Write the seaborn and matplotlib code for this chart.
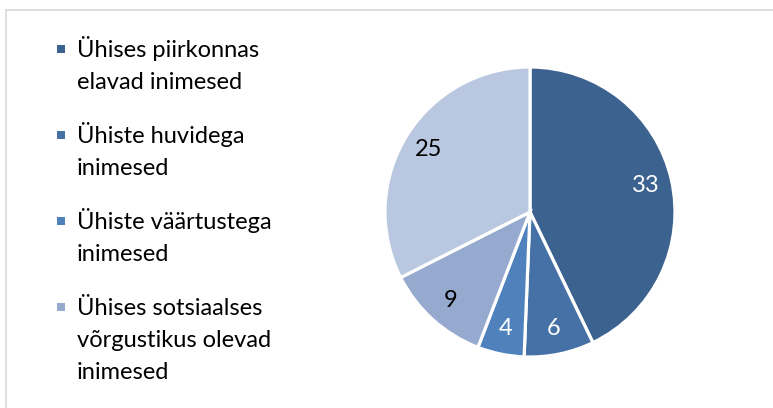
import matplotlib
matplotlib.use("Agg")
import matplotlib.pyplot as plt
import seaborn as sns
from matplotlib.patches import Rectangle
from matplotlib.lines import Line2D

# ---- data ----
legend_labels = [
    "Ühises piirkonnas\nelavad inimesed",
    "Ühiste huvidega\ninimesed",
    "Ühiste väärtustega\ninimesed",
    "Ühises sotsiaalses\nvõrgustikus olevad\ninimesed",
]
values = [33, 6, 4, 9, 25]
colors = ["#3C6390", "#4671A6", "#4F81BD", "#95AACE", "#B9C8E0"]
label_colors = ["white", "white", "white", "black", "black"]

sns.set_theme(style="white")
plt.rcParams['font.family'] = ['Lato', 'DejaVu Sans']

W, H = 773, 408
fig = plt.figure(figsize=(W / 100, H / 100), dpi=100)
fig.patch.set_facecolor("white")

# chart frame (top and left edges visible)
fig.add_artist(Line2D([6 / W, 6 / W], [0, 1 - 10 / H], color="#d9d9d9", lw=1.2))
fig.add_artist(Line2D([6 / W, 1], [1 - 10 / H, 1 - 10 / H], color="#d9d9d9", lw=1.2))

# pie
cx, cy, r = 530, 212, 145
ax = fig.add_axes([(cx - r) / W, (H - cy - r) / H, 2 * r / W, 2 * r / H])
total = sum(values)
wedges, texts, autotexts = ax.pie(
    values, colors=colors, startangle=90, counterclock=False,
    wedgeprops=dict(edgecolor="white", linewidth=2.3),
    autopct=lambda p: f"{p * total / 100:.0f}", pctdistance=0.82,
    textprops=dict(fontsize=17),
)
for t, c in zip(autotexts, label_colors):
    t.set_color(c)
ax.set_xlim(-1, 1)
ax.set_ylim(-1, 1)
ax.set_aspect("equal")
ax.axis("off")

# legend (manual, marker aligned with first line)
base = 57
pitch = 32
gap = 22
for i, lab in enumerate(legend_labels):
    lines = lab.split("\n")
    fig.add_artist(Rectangle(((57) / W, 1 - (base - 4) / H), 8 / W, 8 / H,
                             facecolor=colors[i], edgecolor="none",
                             transform=fig.transFigure))
    for k, ln in enumerate(lines):
        y = base + k * pitch
        fig.text(77 / W, 1 - y / H, ln, fontsize=17, va="baseline", ha="left",
                 color="black")
    base += len(lines) * pitch + gap

fig.savefig("out.png", dpi=100)
